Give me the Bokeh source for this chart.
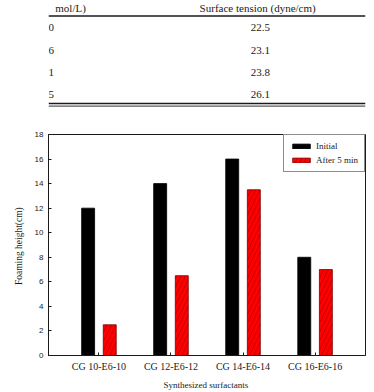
from bokeh.plotting import figure
from bokeh.layouts import column
from bokeh.models import FactorRange, Range1d, Legend, LegendItem, ColumnDataSource
from bokeh.transform import dodge
from bokeh.core.properties import value
from bokeh.embed import file_html
from bokeh.resources import INLINE

# ---- table data (surface tension) ----
conc_labels = ["0", "6", "1", "5"]
surface_tension = [22.5, 23.1, 23.8, 26.1]
table_header_left = "mol/L)"
table_header_right = "Surface  tension  (dyne/cm)"

# ---- chart data (foaming height) ----
surfactants = ["CG 10-E6-10", "CG 12-E6-12", "CG 14-E6-14", "CG 16-E6-16"]
initial = [12, 14, 16, 8]
after_5min = [2.5, 6.5, 13.5, 7]
y_ticks = [0, 2, 4, 6, 8, 10, 12, 14, 16, 18]

SERIF = "Liberation Serif"
SANS = "Liberation Sans"
INK = "#1a1a1a"

# ---------------- table strip ----------------
W = 374
TH = 118
t = figure(width=W, height=TH, x_range=Range1d(0, W), y_range=Range1d(TH, 0),
           toolbar_location=None, output_backend="svg", min_border=0)
t.axis.visible = False
t.grid.visible = False
t.outline_line_color = None

row_y = [27.0, 50.0, 72.0, 94.0]
rows = ColumnDataSource(dict(
    lx=[0] * len(conc_labels), rx=[250] * len(conc_labels), y=row_y,
    left=conc_labels, right=[f"{v:.1f}" for v in surface_tension]))
t.text(x="lx", y="y", text="left", source=rows, text_font=value(SERIF),
       text_font_size="11px", text_align="left", text_baseline="middle", text_color=INK)
t.text(x="rx", y="y", text="right", source=rows, text_font=value(SERIF),
       text_font_size="11px", text_align="center", text_baseline="middle", text_color=INK)
t.text(x=[8], y=[7], text=[table_header_left], text_font=value(SERIF),
       text_font_size="11px", text_align="left", text_baseline="middle", text_color=INK)
t.text(x=[250], y=[7], text=[table_header_right], text_font=value(SERIF),
       text_font_size="11px", text_align="center", text_baseline="middle", text_color=INK)
# rules of the table
t.segment(x0=[0, 0, 0], y0=[15.5, 103.0, 105.6], x1=[W, W, W], y1=[15.5, 103.0, 105.6],
          line_color=INK, line_width=[1.6, 1.5, 0.9])

# ---------------- bar chart ----------------
src = ColumnDataSource(dict(cat=surfactants, initial=initial, after=after_5min))

p = figure(width=W, height=392 - TH, x_range=FactorRange(*surfactants, range_padding=0.1),
           y_range=Range1d(0, 18), toolbar_location=None, output_backend="svg",
           min_border_left=48, min_border_right=9, min_border_top=16, min_border_bottom=36)
p.grid.visible = False
p.outline_line_color = INK
p.outline_line_width = 1

r1 = p.vbar(x=dodge("cat", -0.15, range=p.x_range), top="initial", width=0.18, source=src,
            fill_color="black", line_color="black", line_width=0.8)
r2 = p.vbar(x=dodge("cat", 0.15, range=p.x_range), top="after", width=0.18, source=src,
            fill_color="#ff0000", line_color="#7a0000", line_width=0.8,
            hatch_pattern="/", hatch_color="#5a0000", hatch_weight=0.6, hatch_scale=9,
            hatch_alpha=0.6)

legend = Legend(items=[LegendItem(label="Initial", renderers=[r1]),
                       LegendItem(label="After 5 min", renderers=[r2])],
                location="top_right", margin=0, padding=6, spacing=4,
                glyph_width=22, glyph_height=6, label_height=9, label_standoff=4,
                label_text_font=SERIF, label_text_font_size="9px", label_text_color=INK,
                border_line_color=INK, border_line_width=1, background_fill_alpha=1)
p.add_layout(legend, "center")

p.yaxis.ticker = y_ticks
p.yaxis.major_tick_in = 3
p.yaxis.major_tick_out = 0
p.yaxis.minor_tick_line_color = None
p.yaxis.major_label_text_font = SANS
p.yaxis.major_label_text_font_size = "8px"
p.yaxis.major_label_standoff = 5
p.yaxis.axis_label = "Foaming  height(cm)"
p.yaxis.axis_label_text_font = SERIF
p.yaxis.axis_label_text_font_style = "normal"
p.yaxis.axis_label_text_font_size = "9.5px"
p.yaxis.axis_label_standoff = 8

p.xaxis.major_tick_in = 3
p.xaxis.major_tick_out = 0
p.xaxis.major_label_text_font = SERIF
p.xaxis.major_label_text_font_size = "10px"
p.xaxis.major_label_standoff = 5
p.xaxis.axis_label = "Synthesized  surfactants"
p.xaxis.axis_label_text_font = SERIF
p.xaxis.axis_label_text_font_style = "normal"
p.xaxis.axis_label_text_font_size = "9px"
p.xaxis.axis_label_standoff = 5

for ax in (p.xaxis, p.yaxis):
    ax.axis_line_color = INK
    ax.major_tick_line_color = INK
    ax.major_label_text_color = INK
    ax.axis_label_text_color = INK

layout = column(t, p, spacing=0)
open("out.html", "w").write(file_html(layout, INLINE))
